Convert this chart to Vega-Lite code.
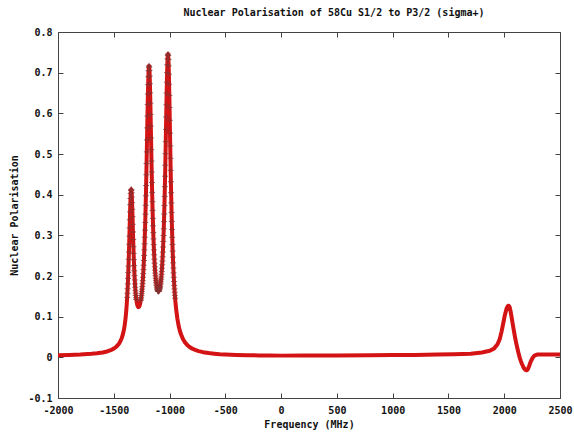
{
  "$schema": "https://vega.github.io/schema/vega-lite/v6.json",
  "autosize": {"type": "none"},
  "padding": {"left": 58, "top": 32, "right": 14, "bottom": 39},
  "width": 502,
  "height": 366,
  "background": "white",
  "title": {
    "text": "Nuclear Polarisation of 58Cu S1/2 to P3/2 (sigma+)",
    "font": "DejaVu Sans Mono",
    "fontSize": 10,
    "fontWeight": "bold",
    "color": "#111111",
    "anchor": "middle",
    "baseline": "alphabetic",
    "dx": 25,
    "offset": 1
  },
  "config": {
    "view": {"stroke": null},
    "axis": {
      "grid": false,
      "domainColor": "#444444",
      "domainWidth": 1,
      "tickColor": "#444444",
      "tickWidth": 1,
      "labelFont": "DejaVu Sans Mono",
      "labelFontSize": 10,
      "labelFontWeight": "bold",
      "labelColor": "#111111",
      "titleFont": "DejaVu Sans Mono",
      "titleFontSize": 10,
      "titleFontWeight": "bold",
      "titleColor": "#111111"
    }
  },
  "datasets": {
    "pol": [
      {"f": -2000, "p": 0.0051}, {"f": -1900, "p": 0.0058}, {"f": -1800, "p": 0.0068}, {"f": -1700, "p": 0.0086},
      {"f": -1650, "p": 0.0100}, {"f": -1600, "p": 0.0120}, {"f": -1560, "p": 0.0145}, {"f": -1520, "p": 0.0185},
      {"f": -1500, "p": 0.0214}, {"f": -1480, "p": 0.0254}, {"f": -1460, "p": 0.0311}, {"f": -1450, "p": 0.0351},
      {"f": -1440, "p": 0.0400}, {"f": -1430, "p": 0.0464}, {"f": -1424, "p": 0.0512},
      {"f": -1420, "p": 0.0550}, {"f": -1418, "p": 0.0570}, {"f": -1416, "p": 0.0593}, {"f": -1414, "p": 0.0616},
      {"f": -1412, "p": 0.0641}, {"f": -1410, "p": 0.0667}, {"f": -1408, "p": 0.0696}, {"f": -1406, "p": 0.0727},
      {"f": -1404, "p": 0.0760}, {"f": -1402, "p": 0.0797}, {"f": -1400, "p": 0.0836}, {"f": -1398, "p": 0.0878},
      {"f": -1396, "p": 0.0923}, {"f": -1394, "p": 0.0973}, {"f": -1392, "p": 0.1027}, {"f": -1390, "p": 0.1086},
      {"f": -1388, "p": 0.1151}, {"f": -1386, "p": 0.1221}, {"f": -1384, "p": 0.1297}, {"f": -1382, "p": 0.1382},
      {"f": -1380, "p": 0.1473}, {"f": -1378, "p": 0.1575}, {"f": -1376, "p": 0.1686}, {"f": -1374, "p": 0.1807},
      {"f": -1372, "p": 0.1940}, {"f": -1370, "p": 0.2084}, {"f": -1368, "p": 0.2241}, {"f": -1366, "p": 0.2410},
      {"f": -1364, "p": 0.2590}, {"f": -1362, "p": 0.2781}, {"f": -1360, "p": 0.2980}, {"f": -1358, "p": 0.3183},
      {"f": -1356, "p": 0.3383}, {"f": -1354, "p": 0.3577}, {"f": -1352, "p": 0.3754}, {"f": -1350, "p": 0.3905},
      {"f": -1348, "p": 0.4024}, {"f": -1346, "p": 0.4101}, {"f": -1344, "p": 0.4132}, {"f": -1342, "p": 0.4114},
      {"f": -1340, "p": 0.4049}, {"f": -1338, "p": 0.3944}, {"f": -1336, "p": 0.3805}, {"f": -1334, "p": 0.3641},
      {"f": -1332, "p": 0.3460}, {"f": -1330, "p": 0.3272}, {"f": -1328, "p": 0.3083}, {"f": -1326, "p": 0.2898},
      {"f": -1324, "p": 0.2721}, {"f": -1322, "p": 0.2554}, {"f": -1320, "p": 0.2399}, {"f": -1318, "p": 0.2256},
      {"f": -1316, "p": 0.2127}, {"f": -1314, "p": 0.2009}, {"f": -1312, "p": 0.1903}, {"f": -1310, "p": 0.1806},
      {"f": -1308, "p": 0.1722}, {"f": -1306, "p": 0.1647}, {"f": -1304, "p": 0.1580}, {"f": -1302, "p": 0.1520},
      {"f": -1300, "p": 0.1466}, {"f": -1298, "p": 0.1422}, {"f": -1296, "p": 0.1383}, {"f": -1294, "p": 0.1349},
      {"f": -1292, "p": 0.1319}, {"f": -1290, "p": 0.1293}, {"f": -1288, "p": 0.1275}, {"f": -1286, "p": 0.1261},
      {"f": -1284, "p": 0.1248}, {"f": -1282, "p": 0.1240}, {"f": -1280, "p": 0.1232}, {"f": -1278, "p": 0.1234},
      {"f": -1276, "p": 0.1238}, {"f": -1274, "p": 0.1243}, {"f": -1272, "p": 0.1250}, {"f": -1270, "p": 0.1258},
      {"f": -1268, "p": 0.1275}, {"f": -1266, "p": 0.1294}, {"f": -1264, "p": 0.1313},
      {"f": -1262, "p": 0.1338}, {"f": -1260, "p": 0.1368}, {"f": -1258, "p": 0.1400}, {"f": -1256, "p": 0.1435},
      {"f": -1254, "p": 0.1474}, {"f": -1252, "p": 0.1519}, {"f": -1250, "p": 0.1567}, {"f": -1248, "p": 0.1620},
      {"f": -1246, "p": 0.1678}, {"f": -1244, "p": 0.1740}, {"f": -1242, "p": 0.1811}, {"f": -1240, "p": 0.1887},
      {"f": -1238, "p": 0.1969}, {"f": -1236, "p": 0.2058}, {"f": -1234, "p": 0.2156}, {"f": -1232, "p": 0.2264},
      {"f": -1230, "p": 0.2380}, {"f": -1228, "p": 0.2505}, {"f": -1226, "p": 0.2642}, {"f": -1224, "p": 0.2791},
      {"f": -1222, "p": 0.2953}, {"f": -1220, "p": 0.3128}, {"f": -1218, "p": 0.3316}, {"f": -1216, "p": 0.3521},
      {"f": -1214, "p": 0.3739}, {"f": -1212, "p": 0.3974}, {"f": -1210, "p": 0.4225}, {"f": -1208, "p": 0.4489},
      {"f": -1206, "p": 0.4765}, {"f": -1204, "p": 0.5051}, {"f": -1202, "p": 0.5346}, {"f": -1200, "p": 0.5642},
      {"f": -1198, "p": 0.5935}, {"f": -1196, "p": 0.6215}, {"f": -1194, "p": 0.6475}, {"f": -1192, "p": 0.6706},
      {"f": -1190, "p": 0.6899}, {"f": -1188, "p": 0.7044}, {"f": -1186, "p": 0.7136}, {"f": -1184, "p": 0.7168},
      {"f": -1182, "p": 0.7142}, {"f": -1180, "p": 0.7055}, {"f": -1178, "p": 0.6916}, {"f": -1176, "p": 0.6728},
      {"f": -1174, "p": 0.6503}, {"f": -1172, "p": 0.6249}, {"f": -1170, "p": 0.5974}, {"f": -1168, "p": 0.5687},
      {"f": -1166, "p": 0.5396}, {"f": -1164, "p": 0.5107}, {"f": -1162, "p": 0.4827}, {"f": -1160, "p": 0.4557},
      {"f": -1158, "p": 0.4299}, {"f": -1156, "p": 0.4055}, {"f": -1154, "p": 0.3826}, {"f": -1152, "p": 0.3614},
      {"f": -1150, "p": 0.3417}, {"f": -1148, "p": 0.3235}, {"f": -1146, "p": 0.3068}, {"f": -1144, "p": 0.2912},
      {"f": -1142, "p": 0.2771}, {"f": -1140, "p": 0.2641}, {"f": -1138, "p": 0.2523}, {"f": -1136, "p": 0.2414},
      {"f": -1134, "p": 0.2314}, {"f": -1132, "p": 0.2225}, {"f": -1130, "p": 0.2145}, {"f": -1128, "p": 0.2072},
      {"f": -1126, "p": 0.2005}, {"f": -1124, "p": 0.1943}, {"f": -1122, "p": 0.1891}, {"f": -1120, "p": 0.1844},
      {"f": -1118, "p": 0.1801}, {"f": -1116, "p": 0.1764}, {"f": -1114, "p": 0.1729}, {"f": -1112, "p": 0.1702},
      {"f": -1110, "p": 0.1678}, {"f": -1108, "p": 0.1658}, {"f": -1106, "p": 0.1644}, {"f": -1104, "p": 0.1633},
      {"f": -1102, "p": 0.1628}, {"f": -1100, "p": 0.1623},
      {"f": -1098, "p": 0.1624}, {"f": -1096, "p": 0.1630}, {"f": -1094, "p": 0.1639}, {"f": -1092, "p": 0.1655},
      {"f": -1090, "p": 0.1673}, {"f": -1088, "p": 0.1695}, {"f": -1086, "p": 0.1718}, {"f": -1084, "p": 0.1746},
      {"f": -1082, "p": 0.1783}, {"f": -1080, "p": 0.1824}, {"f": -1078, "p": 0.1870}, {"f": -1076, "p": 0.1920},
      {"f": -1074, "p": 0.1975}, {"f": -1072, "p": 0.2040}, {"f": -1070, "p": 0.2112}, {"f": -1068, "p": 0.2189},
      {"f": -1066, "p": 0.2275}, {"f": -1064, "p": 0.2368}, {"f": -1062, "p": 0.2472}, {"f": -1060, "p": 0.2587},
      {"f": -1058, "p": 0.2712}, {"f": -1056, "p": 0.2848}, {"f": -1054, "p": 0.2996}, {"f": -1052, "p": 0.3159},
      {"f": -1050, "p": 0.3336}, {"f": -1048, "p": 0.3526}, {"f": -1046, "p": 0.3734}, {"f": -1044, "p": 0.3956},
      {"f": -1042, "p": 0.4196}, {"f": -1040, "p": 0.4453}, {"f": -1038, "p": 0.4724}, {"f": -1036, "p": 0.5008},
      {"f": -1034, "p": 0.5303}, {"f": -1032, "p": 0.5605}, {"f": -1030, "p": 0.5910}, {"f": -1028, "p": 0.6211},
      {"f": -1026, "p": 0.6499}, {"f": -1024, "p": 0.6765}, {"f": -1022, "p": 0.7002}, {"f": -1020, "p": 0.7197},
      {"f": -1018, "p": 0.7343}, {"f": -1016, "p": 0.7431}, {"f": -1014, "p": 0.7458}, {"f": -1012, "p": 0.7421},
      {"f": -1010, "p": 0.7323}, {"f": -1008, "p": 0.7167}, {"f": -1006, "p": 0.6962}, {"f": -1004, "p": 0.6715},
      {"f": -1002, "p": 0.6438}, {"f": -1000, "p": 0.6140}, {"f": -998, "p": 0.5828}, {"f": -996, "p": 0.5513},
      {"f": -994, "p": 0.5200}, {"f": -992, "p": 0.4894}, {"f": -990, "p": 0.4599}, {"f": -988, "p": 0.4317},
      {"f": -986, "p": 0.4049}, {"f": -984, "p": 0.3798}, {"f": -982, "p": 0.3563}, {"f": -980, "p": 0.3343},
      {"f": -978, "p": 0.3141}, {"f": -976, "p": 0.2952}, {"f": -974, "p": 0.2776}, {"f": -972, "p": 0.2613},
      {"f": -970, "p": 0.2464}, {"f": -968, "p": 0.2324}, {"f": -966, "p": 0.2196}, {"f": -964, "p": 0.2077},
      {"f": -962, "p": 0.1967}, {"f": -960, "p": 0.1865}, {"f": -958, "p": 0.1770}, {"f": -956, "p": 0.1682},
      {"f": -954, "p": 0.1600}, {"f": -952, "p": 0.1524}, {"f": -950, "p": 0.1453}, {"f": -948, "p": 0.1387},
      {"f": -946, "p": 0.1325}, {"f": -944, "p": 0.1267}, {"f": -942, "p": 0.1213}, {"f": -940, "p": 0.1163},
      {"f": -930, "p": 0.0952}, {"f": -920, "p": 0.0795}, {"f": -910, "p": 0.0676}, {"f": -900, "p": 0.0584},
      {"f": -880, "p": 0.0450}, {"f": -860, "p": 0.0362}, {"f": -840, "p": 0.0299}, {"f": -820, "p": 0.0253},
      {"f": -800, "p": 0.0219}, {"f": -770, "p": 0.0181}, {"f": -740, "p": 0.0153}, {"f": -700, "p": 0.0127},
      {"f": -650, "p": 0.0105}, {"f": -600, "p": 0.0090}, {"f": -550, "p": 0.0078}, {"f": -500, "p": 0.0070},
      {"f": -400, "p": 0.0059}, {"f": -300, "p": 0.0053}, {"f": -200, "p": 0.0047}, {"f": -100, "p": 0.0044},
      {"f": 0, "p": 0.0042}, {"f": 200, "p": 0.0045}, {"f": 500, "p": 0.0048}, {"f": 800, "p": 0.0052},
      {"f": 1000, "p": 0.0055}, {"f": 1200, "p": 0.0060}, {"f": 1400, "p": 0.0068}, {"f": 1550, "p": 0.0078},
      {"f": 1700, "p": 0.009}, {"f": 1800, "p": 0.012}, {"f": 1870, "p": 0.016}, {"f": 1910, "p": 0.022},
      {"f": 1940, "p": 0.032}, {"f": 1960, "p": 0.045}, {"f": 1975, "p": 0.062}, {"f": 1990, "p": 0.082},
      {"f": 2005, "p": 0.103}, {"f": 2020, "p": 0.119}, {"f": 2032, "p": 0.126}, {"f": 2040, "p": 0.127},
      {"f": 2048, "p": 0.124}, {"f": 2058, "p": 0.112}, {"f": 2068, "p": 0.096}, {"f": 2078, "p": 0.079},
      {"f": 2090, "p": 0.060}, {"f": 2100, "p": 0.045}, {"f": 2110, "p": 0.032}, {"f": 2120, "p": 0.020},
      {"f": 2130, "p": 0.008}, {"f": 2140, "p": -0.002}, {"f": 2150, "p": -0.010}, {"f": 2160, "p": -0.017},
      {"f": 2170, "p": -0.023}, {"f": 2180, "p": -0.028}, {"f": 2190, "p": -0.031}, {"f": 2200, "p": -0.032},
      {"f": 2210, "p": -0.030}, {"f": 2220, "p": -0.024}, {"f": 2230, "p": -0.016}, {"f": 2240, "p": -0.009},
      {"f": 2255, "p": -0.001}, {"f": 2270, "p": 0.004}, {"f": 2300, "p": 0.007}, {"f": 2400, "p": 0.007},
      {"f": 2500, "p": 0.007}
    ]
  },
  "data": {"name": "pol"},
  "layer": [
    {
      "mark": {"type": "line", "color": "#d41414", "strokeWidth": 4, "strokeJoin": "round", "strokeCap": "round", "clip": true},
      "encoding": {
        "x": {
          "field": "f", "type": "quantitative",
          "scale": {"domain": [-2000, 2500], "nice": false, "zero": false},
          "axis": {
            "orient": "bottom",
            "title": "Frequency (MHz)",
            "values": [-2000, -1500, -1000, -500, 0, 500, 1000, 1500, 2000, 2500],
            "labelExpr": "datum.value < 0 ? '-' + format(-datum.value, 'd') : format(datum.value, 'd')",
            "tickSize": -5,
            "labelPadding": 12,
            "titlePadding": 4,
            "labelFlush": false
          }
        },
        "y": {
          "field": "p", "type": "quantitative",
          "scale": {"domain": [-0.1, 0.8], "nice": false, "zero": false},
          "axis": {
            "orient": "left",
            "title": "Nuclear Polarisation",
            "values": [-0.1, 0, 0.1, 0.2, 0.3, 0.4, 0.5, 0.6, 0.7, 0.8],
            "labelExpr": "datum.value < 0 ? '-' + format(-datum.value, '.1f') : (datum.value == 0 ? '0' : format(datum.value, '.1f'))",
            "tickSize": -5,
            "labelPadding": 11,
            "titlePadding": 8,
            "labelFlush": false
          }
        }
      }
    },
    {
      "transform": [{"filter": "datum.f >= -1420 && datum.f <= -940 && datum.p >= 0.14"}],
      "mark": {"type": "point", "shape": "M-1,0H1M0,-1V1", "filled": false, "stroke": "#843232", "strokeWidth": 1, "size": 36, "opacity": 0.75},
      "encoding": {
        "x": {
          "field": "f", "type": "quantitative",
          "axis": {
            "orient": "top", "labels": false, "title": null,
            "values": [-2000, -1500, -1000, -500, 0, 500, 1000, 1500, 2000, 2500],
            "tickSize": -5
          }
        },
        "y": {
          "field": "p", "type": "quantitative",
          "axis": {
            "orient": "right", "labels": false, "title": null,
            "values": [-0.1, 0, 0.1, 0.2, 0.3, 0.4, 0.5, 0.6, 0.7, 0.8],
            "tickSize": -5
          }
        }
      }
    }
  ]
}
